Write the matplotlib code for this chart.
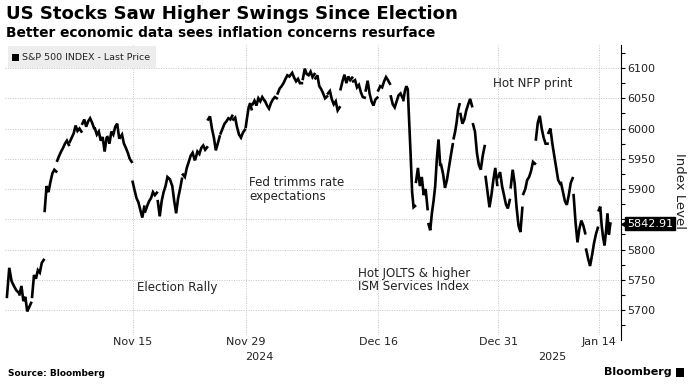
import matplotlib
matplotlib.use("Agg")
import matplotlib.pyplot as plt
import matplotlib.transforms as mtransforms
from matplotlib.patches import Rectangle
from matplotlib.ticker import MultipleLocator, FuncFormatter
import numpy as np

W, H = 693, 391

title = "US Stocks Saw Higher Swings Since Election"
subtitle = "Better economic data sees inflation concerns resurface"
series_label = "S&P 500 INDEX - Last Price"
last_price = 5842.91

# trading sessions (half days get fewer 30-min bars)
sessions = [
    "Nov 1", "Nov 4", "Nov 5", "Nov 6", "Nov 7", "Nov 8",
    "Nov 11", "Nov 12", "Nov 13", "Nov 14", "Nov 15",
    "Nov 18", "Nov 19", "Nov 20", "Nov 21", "Nov 22",
    "Nov 25", "Nov 26", "Nov 27", "Nov 29",
    "Dec 2", "Dec 3", "Dec 4", "Dec 5", "Dec 6",
    "Dec 9", "Dec 10", "Dec 11", "Dec 12", "Dec 13",
    "Dec 16", "Dec 17", "Dec 18", "Dec 19", "Dec 20",
    "Dec 23", "Dec 24", "Dec 26", "Dec 27", "Dec 30", "Dec 31",
    "Jan 2", "Jan 3", "Jan 6", "Jan 7", "Jan 8", "Jan 10", "Jan 13", "Jan 14",
]
half_days = ["Nov 29", "Dec 24"]

# intraday path per session
intraday = [
    [5722, 5770, 5748, 5740, 5733, 5729],
    [5726, 5740, 5715, 5722, 5698, 5705, 5712],
    [5722, 5758, 5752, 5766, 5762, 5778, 5783],
    [5864, 5905, 5895, 5912, 5926, 5932, 5929],
    [5947, 5955, 5962, 5968, 5975, 5980, 5973],
    [5978, 5985, 5992, 6005, 5996, 6000, 5995],
    [6008, 6015, 6003, 6012, 6017, 6010, 6001],
    [6000, 5990, 5995, 5980, 5986, 5962, 5984],
    [5986, 5975, 5995, 5990, 6003, 6008, 5985],
    [5985, 5990, 5975, 5968, 5960, 5950, 5945],
    [5912, 5898, 5885, 5878, 5865, 5853, 5871],
    [5863, 5872, 5880, 5885, 5895, 5890, 5894],
    [5880, 5855, 5880, 5895, 5905, 5920, 5917],
    [5914, 5905, 5880, 5860, 5885, 5900, 5917],
    [5924, 5920, 5935, 5945, 5955, 5960, 5949],
    [5950, 5962, 5958, 5968, 5972, 5965, 5969],
    [6015, 6020, 6000, 5985, 5964, 5975, 5987],
    [5992, 6000, 6008, 6012, 6017, 6015, 6021],
    [6015, 6018, 6002, 5990, 5985, 5993, 5998],
    [6003, 6020, 6035, 6042, 6032],
    [6040, 6046, 6038, 6050, 6045, 6052, 6047],
    [6045, 6038, 6033, 6042, 6048, 6052, 6050],
    [6058, 6066, 6070, 6075, 6082, 6088, 6086],
    [6088, 6092, 6084, 6078, 6082, 6075, 6075],
    [6082, 6099, 6090, 6088, 6094, 6085, 6090],
    [6083, 6088, 6070, 6065, 6058, 6050, 6053],
    [6058, 6062, 6048, 6040, 6045, 6030, 6035],
    [6065, 6078, 6089, 6075, 6086, 6080, 6084],
    [6078, 6080, 6068, 6072, 6060, 6052, 6051],
    [6063, 6079, 6058, 6045, 6038, 6048, 6051],
    [6063, 6070, 6068, 6078, 6085, 6080, 6074],
    [6053, 6040, 6035, 6045, 6055, 6058, 6051],
    [6047, 6062, 6070, 6065, 6010, 5955, 5895, 5870, 5872],
    [5912, 5935, 5905, 5920, 5890, 5900, 5867],
    [5842, 5832, 5860, 5880, 5905, 5950, 5982, 5940],
    [5940, 5925, 5902, 5915, 5935, 5955, 5974],
    [5984, 5995, 6010, 6030, 6040],
    [6024, 6008, 6015, 6030, 6040, 6049, 6037],
    [6007, 5995, 5960, 5940, 5932, 5955, 5971],
    [5920, 5895, 5870, 5890, 5915, 5935, 5907],
    [5920, 5928, 5905, 5890, 5875, 5868, 5882],
    [5903, 5932, 5910, 5870, 5840, 5829, 5869],
    [5892, 5900, 5915, 5920, 5930, 5945, 5942],
    [5982, 6010, 6021, 6000, 5985, 5975, 5975],
    [5993, 6000, 5975, 5955, 5935, 5915, 5909],
    [5910, 5895, 5880, 5874, 5890, 5910, 5918],
    [5890, 5845, 5812, 5835, 5848, 5840, 5827],
    [5800, 5785, 5773, 5790, 5810, 5825, 5836],
    [5865, 5871, 5840, 5820, 5807, 5830, 5860, 5825, 5843],
]

tick_dates = ["Nov 15", "Nov 29", "Dec 16", "Dec 31", "Jan 14"]
years = ["2024", "2025"]

notes = ["Election Rally", "Fed trimms rate\nexpectations",
         "Hot JOLTS & higher\nISM Services Index", "Hot NFP print"]


def fx(px):
    return px / W


def fy(py):
    return 1 - py / H


fig = plt.figure(figsize=(W / 100, H / 100), dpi=100)
ax = fig.add_axes([fx(5), fy(335), fx(621) - fx(5), fy(45) - fy(335)])

starts = {}
pos = 0
for day, path in zip(sessions, intraday):
    n_bars = 7 if day in half_days else 13
    xs = np.linspace(pos, pos + n_bars - 1, len(path))
    ax.plot(xs, path, color="black", lw=1.9, solid_joinstyle="miter")
    starts[day] = pos
    pos += n_bars

ax.set_xlim(-2, 635)
ax.set_ylim(5659, 6138)

ax.set_xticks([starts[d] for d in tick_dates])
ax.set_xticklabels(tick_dates)
ax.tick_params(axis="x", length=0, pad=1.5, labelsize=8, labelcolor="#222222")

ax.yaxis.tick_right()
ax.yaxis.set_major_locator(MultipleLocator(50))
ax.yaxis.set_minor_locator(MultipleLocator(25))
# the 5850 label sits under the last-price tag
ax.yaxis.set_major_formatter(FuncFormatter(lambda v, p: "" if abs(v - 5850) < 1 else f"{v:.0f}"))
ax.tick_params(axis="y", which="both", direction="out", length=3, width=0.8,
               labelsize=8, pad=1.5, labelcolor="#222222")

for side in ["top", "left", "bottom"]:
    ax.spines[side].set_visible(False)
ax.spines["right"].set_linewidth(0.8)
ax.spines["right"].set_bounds(5650, 6138)

ax.grid(True, which="major", color="#c4c4c4", linestyle=(0, (1, 1.5)), lw=0.7)
ax.set_axisbelow(True)

# year labels under the date ticks
fig.text(fx(259), fy(357), years[0], ha="center", va="center", fontsize=8, color="#222222")
fig.text(fx(552), fy(357), years[1], ha="center", va="center", fontsize=8, color="#222222")

# last price tag
trans = mtransforms.blended_transform_factory(ax.transAxes, ax.transData)
ax.text((627 - 5) / 616, last_price, f"{last_price:.2f}", transform=trans,
        ha="left", va="center", fontsize=8, color="white", zorder=10, clip_on=False,
        bbox=dict(boxstyle="square,pad=0.15", fc="black", ec="black"))
ax.plot([(624 - 5) / 616], [last_price], marker="<", ms=5, color="black",
        transform=trans, clip_on=False, zorder=10)

fig.text(fx(679), fy(191), "Index Level", rotation=270, ha="center", va="center",
         fontsize=9.5, color="#222222")

# legend box
fig.patches.append(Rectangle((fx(8), fy(68)), fx(148), 22 / H, transform=fig.transFigure,
                             fc="#ededed", ec="none", zorder=5))
fig.patches.append(Rectangle((fx(12), fy(61)), fx(7), 7 / H, transform=fig.transFigure,
                             fc="black", ec="none", zorder=6))
fig.text(fx(22), fy(57), series_label, ha="left", va="center", fontsize=6.8,
         color="#222222", zorder=7)

# notes on the chart
note_pos = [(137, 287), (249, 190), (358, 280), (493, 83)]
for note, (px, py) in zip(notes, note_pos):
    fig.text(fx(px), fy(py), note, ha="left", va="center", fontsize=8.6,
             color="#222222", linespacing=1.1)

fig.text(fx(6), fy(14), title, ha="left", va="center", fontsize=13.1,
         fontweight="bold", color="black")
fig.text(fx(6), fy(33), subtitle, ha="left", va="center", fontsize=9.95,
         fontweight="bold", color="black")
fig.text(fx(8), fy(373), "Source: Bloomberg", ha="left", va="center", fontsize=6.5,
         fontweight="bold", color="black")
fig.text(fx(672), fy(372), "Bloomberg", ha="right", va="center", fontsize=8,
         fontweight="bold", color="black")
fig.patches.append(Rectangle((fx(676), fy(377)), fx(8), 9 / H, transform=fig.transFigure,
                             fc="black", ec="none"))

fig.savefig("out.png", dpi=100)
